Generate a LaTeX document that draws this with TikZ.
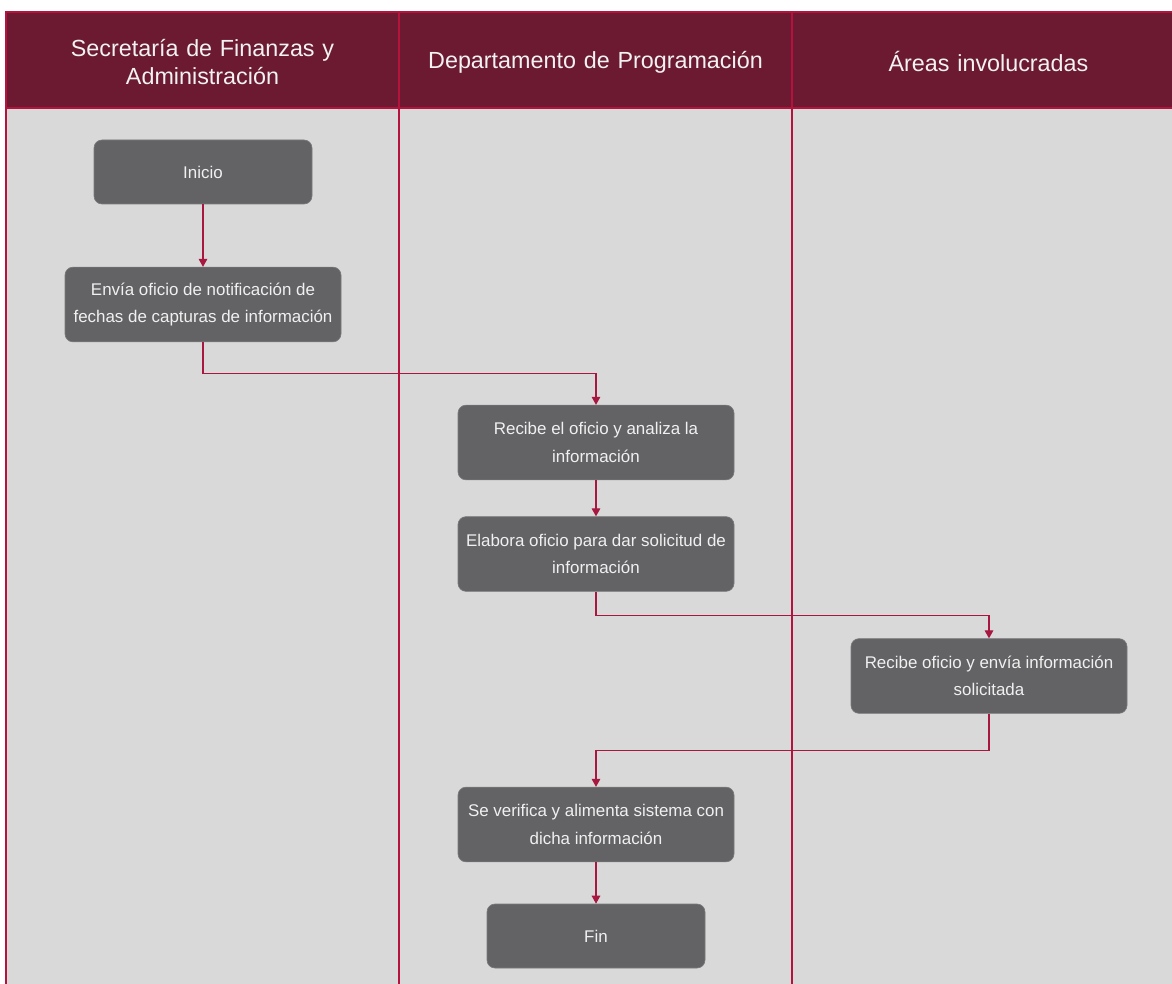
\documentclass[tikz,border=0pt]{standalone}
\usepackage{fontspec}
\setmainfont{Liberation Sans}
\usetikzlibrary{arrows.meta}
\definecolor{hdr}{HTML}{6B1A31}
\definecolor{lane}{HTML}{B5123E}
\definecolor{bgc}{HTML}{D9D9D9}
\definecolor{boxc}{HTML}{636366}
\definecolor{boxb}{HTML}{7A7A7C}
\definecolor{conc}{HTML}{A8173F}
\tikzset{
  hdrtext/.style={text=white!95!black, font=\fontsize{17.5pt}{21pt}\selectfont, align=center, text width=280pt},
  stepbox/.style={rectangle, rounded corners=6pt, fill=boxc, draw=boxb, line width=0.5pt,
    text=white!94!black, font=\fontsize{12.7pt}{20.5pt}\selectfont, align=center,
    minimum width=207pt, minimum height=56pt, inner sep=2pt},
  endbox/.style={stepbox, minimum width=163.5pt, minimum height=48pt},
  conn/.style={draw=conc, line width=0.8pt, -{Triangle[length=6pt,width=6.5pt]}},
  laneline/.style={draw=lane, line width=0.9pt}
}
\begin{document}
\begin{tikzpicture}[x=0.75pt,y=-0.75pt]
\useasboundingbox (0,0) rectangle (1172,984);
\fill[white] (0,0) rectangle (1172,984);
\fill[bgc] (6,12) rectangle (1172,984);
\fill[hdr] (6,12) rectangle (1172,108);
\draw[laneline] (6,984) -- (6,12) -- (1172,12);
\draw[laneline] (6,108) -- (1172,108);
\draw[laneline] (399,12) -- (399,984);
\draw[laneline] (792,12) -- (792,984);
\node[hdrtext] (h1) at (202.5,62) {Secretaría de Finanzas y\\Administración};
\node[hdrtext] (h2) at (595.5,62) {Departamento de Programación};
\node[hdrtext] (h3) at (988.5,62) {Áreas involucradas};

\node[endbox] (ini) at (203,172) {Inicio};
\node[stepbox] (env) at (203,304.5) {Envía oficio de notificación de\\fechas de capturas de información};
\node[stepbox] (rec) at (596,442.5) {Recibe el oficio y analiza la\\información};
\node[stepbox] (ela) at (596,554) {Elabora oficio para dar solicitud de\\información};
\node[stepbox] (reo) at (989,676) {Recibe oficio y envía información\\solicitada};
\node[stepbox] (ver) at (596,824.5) {Se verifica y alimenta sistema con\\dicha información};
\node[endbox] (fin) at (596,936) {Fin};

\draw[conn] (ini) -- (env);
\draw[conn] (env.south) -- ++(0,31) -| (rec.north);
\draw[conn] (rec) -- (ela);
\draw[conn] (ela.south) -- ++(0,24) -| (reo.north);
\draw[conn] (reo.south) -- ++(0,37) -| (ver.north);
\draw[conn] (ver) -- (fin);
\end{tikzpicture}
\end{document}
